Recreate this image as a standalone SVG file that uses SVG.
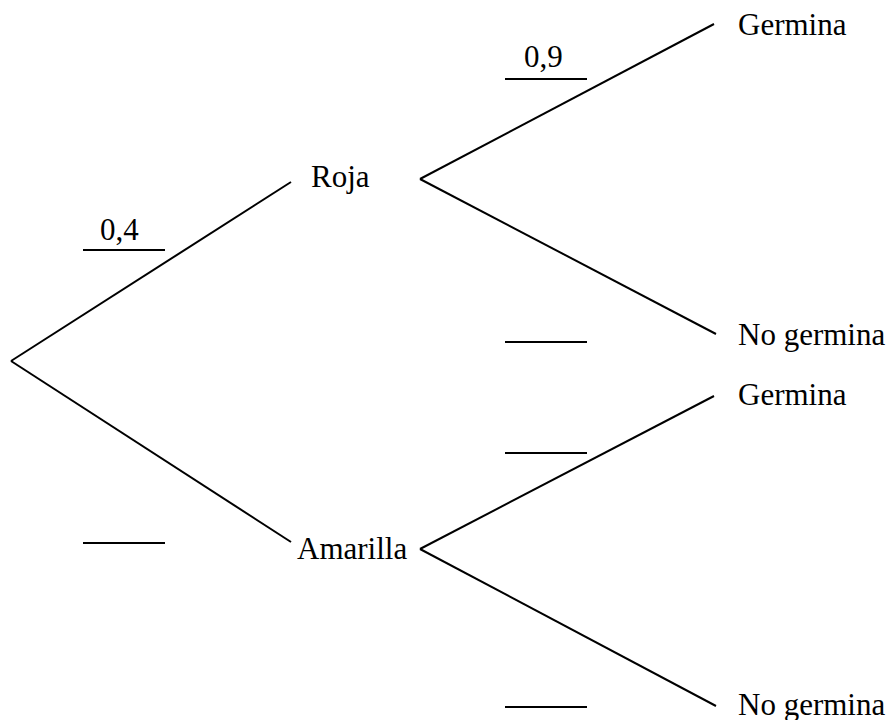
<svg xmlns="http://www.w3.org/2000/svg" width="890" height="720" viewBox="0 0 890 720">
<style>
.l{stroke:#000;stroke-width:2;fill:none}
.b{stroke:#000;stroke-width:2}
text{font-family:"Liberation Serif","Times New Roman",serif;font-size:31px;fill:#000}
</style>
<rect width="890" height="720" fill="#fff"/>
<g id="connectors">
<line class="l" x1="11" y1="361" x2="291" y2="182"/>
<line class="l" x1="11" y1="361" x2="291" y2="542"/>
<line class="l" x1="420" y1="179" x2="714" y2="24"/>
<line class="l" x1="420" y1="179" x2="716" y2="334"/>
<line class="l" x1="420" y1="549" x2="714" y2="396"/>
<line class="l" x1="420" y1="549" x2="716" y2="706"/>
</g>
<g id="blanks">
<line class="b" x1="83" y1="250" x2="165" y2="250"/>
<line class="b" x1="505" y1="79" x2="587" y2="79"/>
<line class="b" x1="505" y1="342" x2="587" y2="342"/>
<line class="b" x1="505" y1="453" x2="587" y2="453"/>
<line class="b" x1="83" y1="543" x2="165" y2="543"/>
<line class="b" x1="505" y1="707" x2="587" y2="707"/>
</g>
<g id="prob-roja"><text x="100" y="240">0,4</text></g>
<g id="prob-germina1"><text x="524" y="67">0,9</text></g>
<g id="node-roja"><text x="311" y="187">Roja</text></g>
<g id="node-amarilla"><text x="297" y="559">Amarilla</text></g>
<g id="node-germina1"><text x="738" y="35">Germina</text></g>
<g id="node-nogermina1"><text x="738" y="345">No germina</text></g>
<g id="node-germina2"><text x="738" y="405">Germina</text></g>
<g id="node-nogermina2"><text x="738" y="715">No germina</text></g>
</svg>
